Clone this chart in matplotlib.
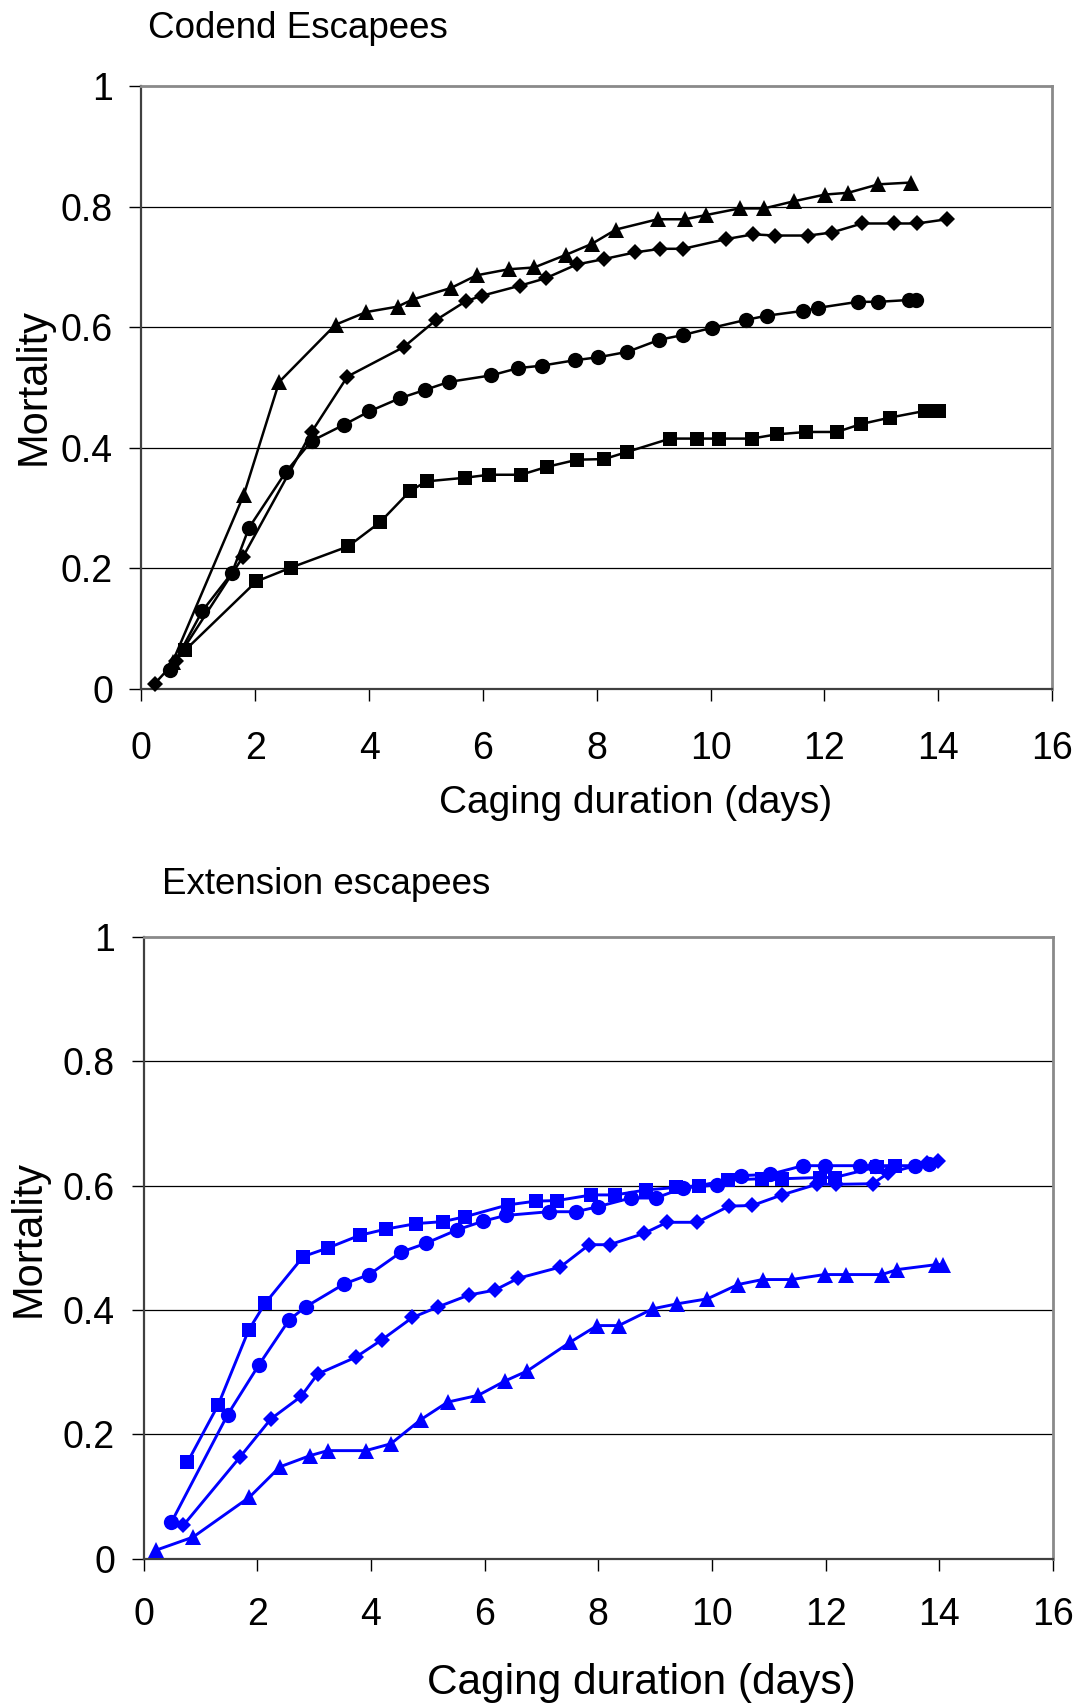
import matplotlib
matplotlib.use("Agg")
import matplotlib.pyplot as plt

plt.rcParams["font.family"] = ["Liberation Sans", "DejaVu Sans"]

# Codend escapees (black series)
codend_tri_x = [0.55, 1.80, 2.42, 3.41, 3.95, 4.50, 4.77, 5.44, 5.89, 6.45, 6.90, 7.46,
                7.91, 8.34, 9.07, 9.55, 9.92, 10.51, 10.94, 11.47, 12.01, 12.42, 12.95, 13.53]
codend_tri_y = [0.045, 0.322, 0.509, 0.604, 0.625, 0.634, 0.646, 0.665, 0.686, 0.696, 0.699, 0.720,
                0.738, 0.762, 0.779, 0.779, 0.786, 0.797, 0.797, 0.809, 0.820, 0.823, 0.837, 0.840]

codend_dia_x = [0.23, 0.60, 1.78, 2.99, 3.62, 4.61, 5.18, 5.70, 5.98, 6.66, 7.10, 7.65, 8.13,
                8.67, 9.12, 9.52, 10.27, 10.75, 11.13, 11.72, 12.13, 12.66, 13.22, 13.63, 14.15]
codend_dia_y = [0.008, 0.046, 0.218, 0.426, 0.518, 0.567, 0.612, 0.643, 0.652, 0.669, 0.681, 0.704, 0.713,
                0.724, 0.730, 0.730, 0.746, 0.754, 0.752, 0.752, 0.757, 0.772, 0.772, 0.772, 0.779]

codend_cir_x = [0.51, 1.07, 1.59, 1.89, 2.54, 2.99, 3.56, 4.00, 4.54, 4.99, 5.40, 6.15, 6.62, 7.03,
                7.61, 8.03, 8.54, 9.10, 9.52, 10.03, 10.62, 10.99, 11.63, 11.89, 12.59, 12.95, 13.48, 13.61]
codend_cir_y = [0.031, 0.129, 0.192, 0.267, 0.360, 0.411, 0.438, 0.460, 0.482, 0.496, 0.509, 0.520, 0.532, 0.536,
                0.545, 0.550, 0.559, 0.579, 0.587, 0.599, 0.612, 0.619, 0.627, 0.632, 0.642, 0.642, 0.645, 0.645]

codend_sq_x = [0.77, 2.02, 2.63, 3.63, 4.19, 4.72, 5.01, 5.68, 6.11, 6.67, 7.12, 7.66, 8.13,
               8.54, 9.29, 9.77, 10.15, 10.72, 11.16, 11.68, 12.22, 12.64, 13.16, 13.77, 14.01]
codend_sq_y = [0.064, 0.178, 0.201, 0.236, 0.276, 0.328, 0.344, 0.350, 0.355, 0.355, 0.368, 0.380, 0.381,
               0.393, 0.415, 0.415, 0.415, 0.415, 0.422, 0.426, 0.426, 0.439, 0.450, 0.461, 0.461]

# Extension escapees (blue series)
ext_sq_x = [0.77, 1.31, 1.85, 2.14, 2.81, 3.25, 3.80, 4.26, 4.80, 5.26, 5.66, 6.41, 6.90,
            7.28, 7.88, 8.30, 8.84, 9.37, 9.78, 10.28, 10.88, 11.24, 11.90, 12.16, 12.90, 13.22]
ext_sq_y = [0.155, 0.247, 0.368, 0.411, 0.486, 0.500, 0.520, 0.530, 0.539, 0.542, 0.550, 0.569, 0.575,
            0.576, 0.585, 0.585, 0.593, 0.597, 0.600, 0.609, 0.611, 0.611, 0.613, 0.613, 0.630, 0.632]

ext_cir_x = [0.49, 1.48, 2.03, 2.56, 2.85, 3.53, 3.97, 4.53, 4.96, 5.52, 5.98, 6.37, 7.13, 7.61,
             7.99, 8.57, 9.01, 9.49, 10.08, 10.51, 11.02, 11.60, 11.99, 12.60, 12.86, 13.57, 13.82]
ext_cir_y = [0.059, 0.232, 0.312, 0.384, 0.405, 0.442, 0.457, 0.493, 0.507, 0.529, 0.543, 0.552, 0.558, 0.558,
             0.566, 0.580, 0.580, 0.596, 0.601, 0.616, 0.618, 0.632, 0.632, 0.632, 0.632, 0.632, 0.634]

ext_dia_x = [0.70, 1.69, 2.24, 2.77, 3.06, 3.73, 4.19, 4.73, 5.18, 5.72, 6.18, 6.59, 7.33, 7.84,
             8.20, 8.80, 9.21, 9.74, 10.30, 10.71, 11.23, 11.84, 12.18, 12.83, 13.10, 13.78, 13.98]
ext_dia_y = [0.054, 0.163, 0.225, 0.261, 0.297, 0.324, 0.352, 0.388, 0.405, 0.424, 0.432, 0.451, 0.469, 0.505,
             0.505, 0.523, 0.541, 0.541, 0.567, 0.568, 0.585, 0.602, 0.602, 0.603, 0.620, 0.637, 0.640]

ext_tri_x = [0.22, 0.87, 1.86, 2.40, 2.93, 3.24, 3.91, 4.35, 4.88, 5.35, 5.89, 6.36, 6.75, 7.50,
             7.98, 8.36, 8.96, 9.39, 9.92, 10.46, 10.89, 11.40, 11.98, 12.35, 12.99, 13.26, 13.95, 14.06]
ext_tri_y = [0.014, 0.035, 0.099, 0.148, 0.166, 0.174, 0.174, 0.185, 0.224, 0.252, 0.263, 0.286, 0.302, 0.348,
             0.375, 0.375, 0.402, 0.410, 0.418, 0.441, 0.449, 0.449, 0.457, 0.457, 0.457, 0.465, 0.473, 0.473]

x_ticks = [0, 2, 4, 6, 8, 10, 12, 14, 16]
y_ticks = [0, 0.2, 0.4, 0.6, 0.8, 1]
y_tick_labels = ["0", "0.2", "0.4", "0.6", "0.8", "1"]

marker_sizes = {"^": 12, "D": 8.5, "o": 11, "s": 10.5}


def style_axes(ax, xpad):
    ax.set_xlim(0, 16)
    ax.set_ylim(0, 1)
    ax.set_xticks(x_ticks)
    ax.set_xticklabels([str(t) for t in x_ticks])
    ax.set_yticks(y_ticks)
    ax.set_yticklabels(y_tick_labels)
    ax.tick_params(axis="both", direction="out", length=8.5, width=1, labelsize=27)
    ax.tick_params(axis="x", pad=xpad)
    ax.tick_params(axis="y", pad=12)
    for g in [0.2, 0.4, 0.6, 0.8]:
        ax.axhline(g, color="black", lw=0.9, zorder=1)
    for side in ["left", "bottom"]:
        ax.spines[side].set_color("#404040")
        ax.spines[side].set_linewidth(1.6)
    for side in ["top", "right"]:
        ax.spines[side].set_color("#8a8a8a")
        ax.spines[side].set_linewidth(2.0)


def draw(ax, series, color, lw):
    for xs, ys, m in series:
        ax.plot(xs, ys, color=color, lw=lw, marker=m, markersize=marker_sizes[m],
                markeredgewidth=0, clip_on=False, zorder=3)


fig = plt.figure(figsize=(10.78, 17.05), dpi=100)

ax1 = fig.add_axes([0.1312, 0.5961, 0.8447, 0.3534])
style_axes(ax1, xpad=22)
draw(ax1, [
    (codend_sq_x, codend_sq_y, "s"),
    (codend_cir_x, codend_cir_y, "o"),
    (codend_dia_x, codend_dia_y, "D"),
    (codend_tri_x, codend_tri_y, "^"),
], "black", 1.8)

ax2 = fig.add_axes([0.1332, 0.0857, 0.8436, 0.3649])
style_axes(ax2, xpad=19)
draw(ax2, [
    (ext_tri_x, ext_tri_y, "^"),
    (ext_dia_x, ext_dia_y, "D"),
    (ext_cir_x, ext_cir_y, "o"),
    (ext_sq_x, ext_sq_y, "s"),
], "#0000ff", 2.1)

fig.text(0.137, 0.983, "Codend Escapees", fontsize=26.5, ha="left", va="center")
fig.text(0.150, 0.4815, "Extension escapees", fontsize=26.5, ha="left", va="center")

fig.text(0.59, 0.529, "Caging duration (days)", fontsize=28, ha="center", va="center")
fig.text(0.595, 0.013, "Caging duration (days)", fontsize=30.5, ha="center", va="center")

fig.text(0.031, 0.7736, "Mortality", fontsize=30, rotation=90, ha="center", va="center")
fig.text(0.027, 0.2739, "Mortality", fontsize=30, rotation=90, ha="center", va="center")

fig.savefig("out.png", dpi=100)
